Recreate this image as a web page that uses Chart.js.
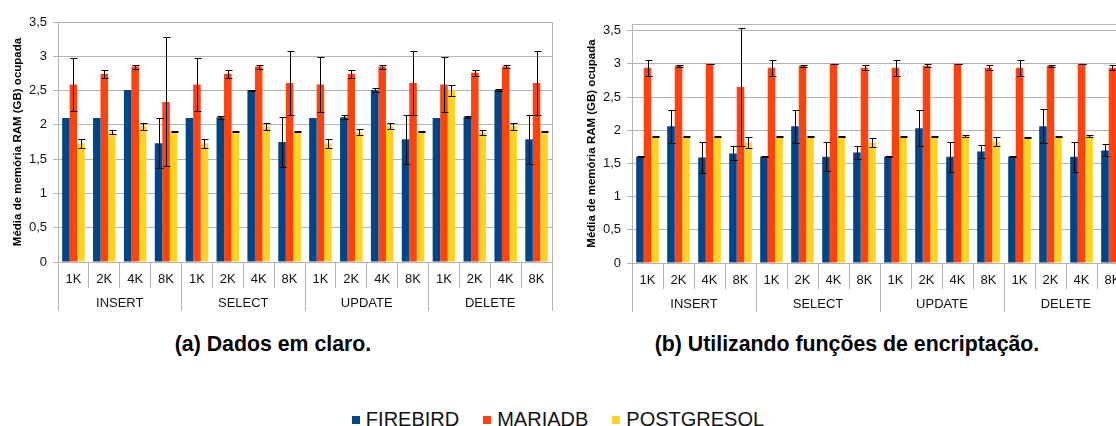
<!DOCTYPE html>
<html>
<head>
<meta charset="utf-8">
<script src="https://cdn.jsdelivr.net/npm/chart.js@4.4.1/dist/chart.umd.min.js"></script>
<style>
  html, body { margin: 0; padding: 0; background: #fff; }
  body { width: 1116px; height: 426px; overflow: hidden; position: relative; font-family: "Liberation Sans", Arial, sans-serif; }
  canvas { position: absolute; top: 0; }
  #chartA { left: 0; }
  #chartB { left: 574px; }
  .caption { position: absolute; top: 332px; font-weight: bold; font-size: 21.3px; color: #000; white-space: nowrap; transform: translateX(-50%); }
  #legend { position: absolute; left: 0; width: 1116px; top: 408px; display: flex; justify-content: center; font-size: 20px; color: #111; }
  #legend span.item { display: flex; align-items: center; margin: 0 12px; }
  #legend i { display: inline-block; width: 8px; height: 8px; margin-right: 6px; }
</style>
</head>
<body>
<canvas id="chartA" width="560" height="320"></canvas>
<canvas id="chartB" width="562" height="322"></canvas>
<div class="caption" style="left:273px">(a) Dados em claro.</div>
<div class="caption" style="left:847px">(b) Utilizando funções de encriptação.</div>
<div id="legend"></div>
<script>
const sizes = ["1K", "2K", "4K", "8K"];
const operations = ["INSERT", "SELECT", "UPDATE", "DELETE"];
const seriesNames = ["FIREBIRD", "MARIADB", "POSTGRESQL"];
const seriesColors = ["#004586", "#ff420e", "#ffd320"];

// (a) dados em claro
const firebirdA = [2.10, 2.10, 2.51, 1.73, 2.10, 2.11, 2.505, 1.75, 2.10, 2.11, 2.51, 1.79, 2.10, 2.115, 2.51, 1.79];
const firebirdErrA = [0, 0, 0, 0.365, 0, 0.02, 0.005, 0.36, 0, 0.03, 0.03, 0.36, 0, 0.02, 0.02, 0.36];
const mariadbA = [2.59, 2.745, 2.85, 2.335, 2.59, 2.745, 2.85, 2.61, 2.59, 2.745, 2.85, 2.61, 2.59, 2.76, 2.85, 2.61];
const mariadbErrA = [0.39, 0.06, 0.03, 0.94, 0.39, 0.06, 0.03, 0.46, 0.40, 0.06, 0.03, 0.47, 0.40, 0.045, 0.02, 0.47];
const postgresA = [1.73, 1.89, 1.98, 1.90, 1.73, 1.90, 1.98, 1.90, 1.73, 1.89, 1.98, 1.90, 2.50, 1.89, 1.98, 1.90];
const postgresErrA = [0.07, 0.03, 0.05, 0.005, 0.07, 0.01, 0.05, 0.005, 0.07, 0.045, 0.045, 0.005, 0.08, 0.035, 0.05, 0.005];

// (b) utilizando funções de encriptação
const firebirdB = [1.60, 2.06, 1.59, 1.65, 1.60, 2.06, 1.60, 1.665, 1.60, 2.03, 1.60, 1.68, 1.60, 2.06, 1.60, 1.695];
const firebirdErrB = [0.005, 0.25, 0.23, 0.105, 0.005, 0.25, 0.22, 0.10, 0.005, 0.275, 0.225, 0.10, 0.005, 0.255, 0.225, 0.09];
const mariadbB = [2.94, 2.97, 3.00, 2.65, 2.94, 2.97, 3.00, 2.94, 2.94, 2.97, 3.00, 2.94, 2.94, 2.97, 3.00, 2.94];
const mariadbErrB = [0.125, 0.015, 0.005, 0.89, 0.125, 0.015, 0.005, 0.04, 0.125, 0.02, 0.005, 0.04, 0.125, 0.015, 0.005, 0.04];
const postgresB = [1.905, 1.905, 1.905, 1.815, 1.905, 1.905, 1.905, 1.815, 1.905, 1.905, 1.915, 1.83, 1.895, 1.905, 1.915, 1.83];
const postgresErrB = [0.005, 0.005, 0.005, 0.09, 0.005, 0.005, 0.005, 0.07, 0.005, 0.005, 0.02, 0.07, 0.005, 0.005, 0.02, 0.07];

const categories = operations.flatMap(() => sizes);
const gridColor = "#b3b3b3";
const textColor = "#111";

const errorBars = {
  id: "errorBars",
  afterDatasetsDraw(chart) {
    const ctx = chart.ctx;
    const yScale = chart.scales.y;
    ctx.save();
    ctx.strokeStyle = "#000";
    ctx.lineWidth = 1;
    chart.data.datasets.forEach((ds, di) => {
      const meta = chart.getDatasetMeta(di);
      meta.data.forEach((bar, i) => {
        const err = ds.errors[i];
        if (!err) return;
        const top = Math.round(yScale.getPixelForValue(ds.data[i] + err)) + 0.5;
        const bottom = Math.round(yScale.getPixelForValue(ds.data[i] - err)) + 0.5;
        const x = Math.round(bar.x) + 0.5;
        ctx.beginPath();
        ctx.moveTo(x, top);
        ctx.lineTo(x, bottom);
        ctx.moveTo(x - 3, top);
        ctx.lineTo(x + 4, top);
        ctx.moveTo(x - 3, bottom);
        ctx.lineTo(x + 4, bottom);
        ctx.stroke();
      });
    });
    ctx.restore();
  }
};

const frame = {
  id: "frame",
  beforeDatasetsDraw(chart) {
    const { ctx, chartArea } = chart;
    ctx.save();
    ctx.strokeStyle = gridColor;
    ctx.lineWidth = 1;
    ctx.strokeRect(Math.round(chartArea.left) + 0.5, Math.round(chartArea.top) + 0.5,
      Math.round(chartArea.right - chartArea.left), Math.round(chartArea.bottom - chartArea.top));
    ctx.restore();
  }
};

const makeChart = (id, values, errors, yMax, padding) => {
  return new Chart(document.getElementById(id), {
    type: "bar",
    data: {
      labels: categories,
      datasets: seriesNames.map((name, k) => ({
        label: name,
        data: values[k],
        errors: errors[k],
        backgroundColor: seriesColors[k],
        borderWidth: 0,
        categoryPercentage: 0.73,
        barPercentage: 1.0,
      })),
    },
    options: {
      responsive: false,
      animation: false,
      layout: { padding: padding },
      plugins: {
        legend: { display: false },
        tooltip: { enabled: false },
      },
      scales: {
        x: {
          type: "category",
          position: "bottom",
          weight: 0,
          offset: true,
          grid: { offset: true, drawOnChartArea: false, tickLength: 26, color: gridColor },
          border: { color: gridColor },
          ticks: { padding: -16, autoSkip: false, maxRotation: 0, color: textColor, font: { size: 13 } },
          afterFit: (s) => { s.height = 26; },
        },
        xg: {
          type: "category",
          position: "bottom",
          weight: 1,
          labels: operations,
          offset: true,
          grid: { offset: true, drawOnChartArea: false, tickLength: 23, color: gridColor },
          border: { display: false },
          ticks: { padding: -15, autoSkip: false, maxRotation: 0, color: textColor, font: { size: 13 } },
          afterFit: (s) => { s.height = 23; },
        },
        y: {
          min: 0,
          max: yMax,
          grid: { color: gridColor, tickLength: 5 },
          border: { color: gridColor },
          ticks: {
            stepSize: 0.5,
            includeBounds: false,
            padding: 6,
            color: textColor,
            font: { size: 13 },
            callback: (v) => String(v).replace(".", ","),
          },
          title: {
            display: true,
            text: "Média de memória RAM (GB) ocupada",
            color: "#000",
            padding: 0,
            font: { size: 11.5, weight: "bold" },
          },
          afterFit: (s) => { s.width = 47; },
        },
      },
    },
    plugins: [frame, errorBars],
  });
};

makeChart("chartA",
  [firebirdA, mariadbA, postgresA],
  [firebirdErrA, mariadbErrA, postgresErrA],
  3.5, { left: 11, top: 22, right: 8, bottom: 9 });

makeChart("chartB",
  [firebirdB, mariadbB, postgresB],
  [firebirdErrB, mariadbErrB, postgresErrB],
  3.6, { left: 11, top: 24, right: 8, bottom: 10 });

const legend = document.getElementById("legend");
seriesNames.forEach((name, k) => {
  const item = document.createElement("span");
  item.className = "item";
  const sw = document.createElement("i");
  sw.style.background = seriesColors[k];
  item.appendChild(sw);
  item.appendChild(document.createTextNode(name));
  legend.appendChild(item);
});
</script>
</body>
</html>
